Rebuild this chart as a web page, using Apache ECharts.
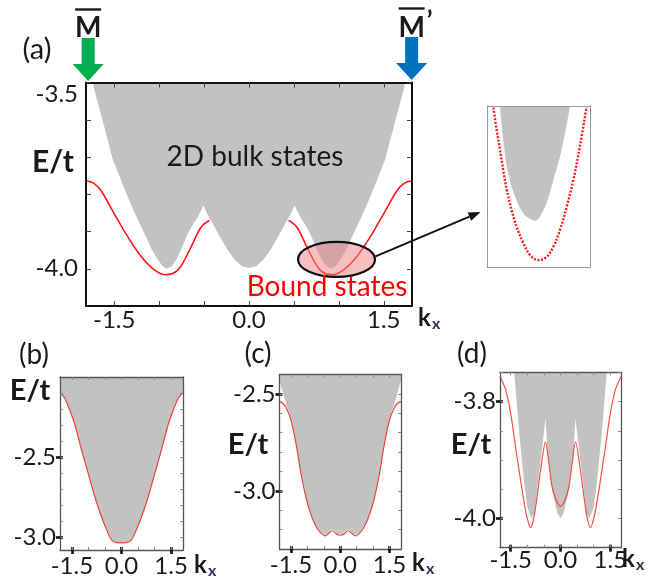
<!DOCTYPE html>
<html><head><meta charset="utf-8">
<script src="https://cdn.jsdelivr.net/npm/echarts@6/dist/echarts.min.js"></script>
<style>html,body{margin:0;padding:0;background:#fff}#c{width:653px;height:579px}</style>
</head><body><div id="c"></div>
<script>
// ---------- Panel (a) ----------
const kA_bulk = [-1.73,-1.62,-1.518,-1.42,-1.332,-1.25,-1.165,-1.09,-1.016,-0.96,-0.915,-0.86,-0.81,-0.74,-0.68,-0.62,-0.57,-0.507,-0.46,-0.40,-0.346,-0.25,-0.16,-0.08,0,0.08,0.16,0.25,0.346,0.40,0.46,0.507,0.57,0.62,0.68,0.74,0.81,0.86,0.915,0.96,1.016,1.09,1.165,1.25,1.332,1.42,1.518,1.62,1.73];
const eA_bulk = [-3.512,-3.61,-3.705,-3.765,-3.817,-3.862,-3.905,-3.945,-3.976,-3.993,-4.0,-3.993,-3.976,-3.94,-3.905,-3.88,-3.861,-3.83,-3.855,-3.88,-3.905,-3.945,-3.976,-3.993,-3.998,-3.993,-3.976,-3.945,-3.905,-3.88,-3.855,-3.83,-3.861,-3.88,-3.905,-3.94,-3.976,-3.993,-4.0,-3.993,-3.976,-3.945,-3.905,-3.862,-3.817,-3.765,-3.705,-3.61,-3.512];
const kA_boundL = [-1.814,-1.73,-1.648,-1.5,-1.35,-1.2,-1.053,-0.93,-0.79,-0.644,-0.532,-0.44];
const eA_boundL = [-3.764,-3.770,-3.79,-3.852,-3.914,-3.967,-4.003,-4.016,-4.003,-3.941,-3.888,-3.87];
const kA_boundR = [0.44,0.532,0.644,0.79,0.93,1.053,1.2,1.35,1.5,1.648,1.73,1.814];
const eA_boundR = [-3.87,-3.888,-3.941,-4.003,-4.016,-4.003,-3.967,-3.914,-3.852,-3.79,-3.770,-3.764];
const xTickLabels = [-1.5,0,1.5];
const xTicksA = [-1.5,-1.0,-0.5,0,0.5,1.0,1.5];
const yTickLabelsA = [-4.0,-3.5];
const yTicksA = [-4.0,-3.9,-3.8,-3.7,-3.6,-3.5];

// ---------- Inset ----------
const kI_bulk = [0.763,0.779,0.803,0.836,0.876,0.909,0.933,0.957,0.990,1.022,1.054,1.079,1.103];
const eI_bulk = [-3.920,-3.941,-3.962,-3.976,-3.9867,-3.990,-3.9912,-3.9888,-3.980,-3.966,-3.9515,-3.937,-3.920];
const kI_bound = [0.731,0.747,0.763,0.779,0.796,0.820,0.844,0.876,0.909,0.949,0.990,1.022,1.054,1.087,1.119,1.151,1.184];
const eI_bound = [-3.921,-3.935,-3.947,-3.960,-3.972,-3.985,-3.995,-4.005,-4.0125,-4.0157,-4.0136,-4.0074,-3.997,-3.9825,-3.966,-3.945,-3.920];

// ---------- Panel (b) ----------
const kB = [-1.86,-1.80,-1.72,-1.57,-1.41,-1.21,-1.01,-0.81,-0.61,-0.45,-0.30,-0.15,0,0.15,0.30,0.45,0.61,0.81,1.01,1.21,1.41,1.57,1.72,1.80,1.86];
const eB = [-2.10,-2.11,-2.131,-2.204,-2.298,-2.454,-2.600,-2.746,-2.871,-2.954,-3.017,-3.034,-3.035,-3.034,-3.017,-2.954,-2.871,-2.746,-2.600,-2.454,-2.298,-2.204,-2.131,-2.11,-2.10];
const yTickLabelsB = [-3.0,-2.5];
const yMinorB = [-3.0,-2.9,-2.8,-2.7,-2.6,-2.5,-2.4,-2.3,-2.2,-2.1];

// ---------- Panel (c) ----------
const kC = [-1.85,-1.75,-1.65,-1.5,-1.34,-1.19,-1.04,-0.89,-0.74,-0.59,-0.45,-0.34,-0.24,-0.12,0,0.12,0.24,0.34,0.45,0.59,0.74,0.89,1.04,1.19,1.34,1.5,1.65,1.75,1.85];
const eC_bound = [-2.54,-2.548,-2.57,-2.634,-2.763,-2.917,-3.037,-3.123,-3.183,-3.218,-3.232,-3.218,-3.206,-3.222,-3.229,-3.222,-3.206,-3.218,-3.232,-3.218,-3.183,-3.123,-3.037,-2.917,-2.763,-2.634,-2.57,-2.548,-2.54];
const eC_bulk = [-2.43,-2.49,-2.55,-2.628,-2.758,-2.912,-3.032,-3.118,-3.178,-3.213,-3.226,-3.213,-3.200,-3.216,-3.223,-3.216,-3.200,-3.213,-3.226,-3.213,-3.178,-3.118,-3.032,-2.912,-2.758,-2.628,-2.55,-2.49,-2.43];
const yTickLabelsC = [-3.0,-2.5];
const yMinorC = [-3.2,-3.1,-3.0,-2.9,-2.8,-2.7,-2.6,-2.5];

// ---------- Panel (d) ----------
const kD_bound = [-1.82,-1.65,-1.5,-1.35,-1.2,-1.05,-0.97,-0.9,-0.83,-0.75,-0.6,-0.45,-0.35,-0.25,-0.12,0,0.12,0.25,0.35,0.45,0.6,0.75,0.83,0.9,0.97,1.05,1.2,1.35,1.5,1.65,1.82];
const eD_bound = [-3.757,-3.78,-3.82,-3.878,-3.935,-3.987,-4.006,-4.016,-4.006,-3.981,-3.918,-3.869,-3.906,-3.947,-3.970,-3.979,-3.970,-3.947,-3.906,-3.869,-3.918,-3.981,-4.006,-4.016,-4.006,-3.987,-3.935,-3.878,-3.82,-3.78,-3.757];
const kD_bulk = [-1.40,-1.33,-1.25,-1.10,-1.00,-0.87,-0.78,-0.67,-0.55,-0.45,-0.40,-0.25,-0.10,0,0.10,0.25,0.40,0.45,0.55,0.67,0.78,0.87,1.00,1.10,1.25,1.33,1.40];
const eD_bulk = [-3.747,-3.791,-3.849,-3.935,-3.981,-4.0,-3.99,-3.935,-3.878,-3.829,-3.878,-3.952,-3.99,-4.0,-3.99,-3.952,-3.878,-3.829,-3.878,-3.935,-3.99,-4.0,-3.981,-3.935,-3.849,-3.791,-3.747];
const yTickLabelsD = [-4.0,-3.8];
const yMinorD = [-4.0,-3.95,-3.9,-3.85,-3.8,-3.75];

const xMinor = [-1.5,-1.0,-0.5,0,0.5,1.0,1.5];

// ---------------------------------------------------
const F = 'Lato, "Open Sans", sans-serif';
const TS = 24;
const zip = (a, b) => a.map((v, i) => [v, b[i]]);
const chart = echarts.init(document.getElementById('c'));

const gridBase = {outerBoundsMode:'none', containLabel:false, show:false};
const grids = [
  {left:86, top:82.5, width:326, height:223.5},
  {left:60, top:377, width:123, height:173},
  {left:279.5, top:374.5, width:121.5, height:174.5},
  {left:500, top:372.3, width:121, height:175.4},
  {left:487, top:106, width:103, height:161}
].map(g => Object.assign({}, gridBase, g));
const xAxes = [], yAxes = [];
function axis(list, o) {
  list.push({
    type:'value', gridIndex:o.g, min:o.min, max:o.max, position:o.pos, offset:0, z:5,
    axisLine:{show:!!o.line, onZero:false, lineStyle:{color:o.lc||'#444', width:o.lw||1.3}},
    axisTick:{show:!!o.ticks, inside:!!o.inside, length:o.tl||4, customValues:o.ticks,
      lineStyle:{color:o.tc||'#333', width:o.tw||1}},
    axisLabel:{show:!!o.labels, customValues:o.labels, margin:(o.margin==null?4:o.margin), hideOverlap:false,
      fontFamily:F, fontSize:TS, color:'#1a1a1a', formatter:o.fmt||(v=>v.toFixed(1)), rich:o.rich},
    splitLine:{show:false}, minorTick:{show:false}
  });
  return list.length - 1;
}

// Panel (a)
const xA = axis(xAxes,{g:0,min:-1.814,max:1.814,pos:'bottom',line:true,lc:'#111',lw:2,ticks:xTicksA,inside:true,tl:5,tc:'#444',labels:xTickLabels,margin:2});
axis(xAxes,{g:0,min:-1.814,max:1.814,pos:'top',line:true,lc:'#111',lw:2,ticks:xTicksA,inside:true,tl:5,tc:'#444'});
const yA = axis(yAxes,{g:0,min:-4.1,max:-3.5,pos:'left',line:true,lc:'#111',lw:2,ticks:yTicksA,inside:true,tl:5,tc:'#444',
  labels:yTickLabelsA,margin:8,
  fmt:v=>Math.abs(v+3.5)<1e-6?'{t|-3.5}':'{n|'+v.toFixed(1)+'}',
  rich:{t:{padding:[23,0,0,0],fontFamily:F,fontSize:TS,color:'#1a1a1a'},n:{fontFamily:F,fontSize:TS,color:'#1a1a1a'}}});
axis(yAxes,{g:0,min:-4.1,max:-3.5,pos:'right',line:true,lc:'#111',lw:2,ticks:yTicksA,inside:true,tl:5,tc:'#444'});

// Panels (b),(c),(d)
function smallPanel(g, xr, yr, yLab, yMin, xMargin) {
  const xi = axis(xAxes,{g,min:-xr,max:xr,pos:'bottom',line:true,lc:'#555',lw:1.3,ticks:xTickLabels,inside:false,tl:4,tw:2.6,tc:'#111',labels:xTickLabels,margin:xMargin});
  axis(xAxes,{g,min:-xr,max:xr,pos:'bottom',ticks:xTickLabels,inside:true,tl:3,tw:2.6,tc:'#111'});
  axis(xAxes,{g,min:-xr,max:xr,pos:'bottom',ticks:xMinor,inside:true,tl:3,tw:1,tc:'#888'});
  axis(xAxes,{g,min:-xr,max:xr,pos:'top',line:true,lc:'#555',lw:1.3,ticks:xMinor,inside:true,tl:3,tw:1,tc:'#888'});
  const yi = axis(yAxes,{g,min:yr[0],max:yr[1],pos:'left',line:true,lc:'#555',lw:1.3,ticks:yLab,inside:false,tl:4,tw:2.6,tc:'#111',labels:yLab,margin:4});
  axis(yAxes,{g,min:yr[0],max:yr[1],pos:'left',ticks:yLab,inside:true,tl:3,tw:2.6,tc:'#111'});
  axis(yAxes,{g,min:yr[0],max:yr[1],pos:'left',ticks:yMin,inside:true,tl:3,tw:1,tc:'#888'});
  axis(yAxes,{g,min:yr[0],max:yr[1],pos:'right',line:true,lc:'#555',lw:1.3,ticks:yMin,inside:true,tl:3,tw:1,tc:'#888'});
  return [xi, yi];
}
const [xB, yB] = smallPanel(1, 1.86, [-3.08,-2.0], yTickLabelsB, yMinorB, 4);
const [xC, yC] = smallPanel(2, 1.85, [-3.3,-2.4], yTickLabelsC, yMinorC, 4);
const [xD, yD] = smallPanel(3, 1.82, [-4.05,-3.75], yTickLabelsD, yMinorD, 1);

// Inset
const xI = axis(xAxes,{g:4,min:0.70,max:1.20,pos:'bottom',line:true,lc:'#999',lw:1});
axis(xAxes,{g:4,min:0.70,max:1.20,pos:'top',line:true,lc:'#999',lw:1});
const yI = axis(yAxes,{g:4,min:-4.02,max:-3.92,pos:'left',line:true,lc:'#999',lw:1});
axis(yAxes,{g:4,min:-4.02,max:-3.92,pos:'right',line:true,lc:'#999',lw:1});

const GRAY = '#c2c2c2';
function bulk(x, y, k, e, smooth) {
  return {type:'line', xAxisIndex:x, yAxisIndex:y, data:zip(k,e), symbol:'none', smooth:smooth||false,
    lineStyle:{width:0}, areaStyle:{color:GRAY, opacity:1, origin:'end'}, z:2, silent:true};
}
function bound(x, y, k, e, style, smooth) {
  return {type:'line', xAxisIndex:x, yAxisIndex:y, data:zip(k,e), symbol:'none', smooth:smooth,
    lineStyle:style, z:3, silent:true};
}
const series = [
  bulk(xA, yA, kA_bulk, eA_bulk),
  bound(xA, yA, kA_boundL, eA_boundL, {color:'#ff1010', width:1.5}, 0.35),
  bound(xA, yA, kA_boundR, eA_boundR, {color:'#ff1010', width:1.5}, 0.35),
  bulk(xB, yB, kB, eB, 0.3),
  bound(xB, yB, kB, eB, {color:'#e8443c', width:1.2}, 0.3),
  bulk(xC, yC, kC, eC_bulk, 0.3),
  bound(xC, yC, kC, eC_bound, {color:'#e8443c', width:1.2}, 0.3),
  bulk(xD, yD, kD_bulk, eD_bulk),
  bound(xD, yD, kD_bound, eD_bound, {color:'rgba(240,50,50,0.85)', width:1.2}, 0.3),
  bulk(xI, yI, kI_bulk, eI_bulk, 0.4),
  bound(xI, yI, kI_bound, eI_bound, {color:'#ff1a1a', width:2.4, type:[2,1.6]}, 0.4)
];

chart.setOption({animation:false, backgroundColor:'#fff', grid:grids, xAxis:xAxes, yAxis:yAxes, series});

// ---------- annotations ----------
const px = (k, e) => chart.convertToPixel({seriesIndex:0}, [k, e]);
const [gx] = px(-1.79, -3.5);
const [bx] = px(1.81, -3.5);
const topY = px(0, -3.5)[1];
function arrow(tx, ty, color) {
  return {type:'polygon', z:10, shape:{points:[[tx-6.5,ty-43],[tx+6.5,ty-43],[tx+6.5,ty-17],[tx+15.5,ty-17],[tx,ty],[tx-15.5,ty-17],[tx-6.5,ty-17]]},
    style:{fill:color}};
}
const [ecx, ecy] = px(0.974, -3.975);
const txt = (x, y, s, size, opt) => Object.assign({type:'text', x, y, z:12,
  style:Object.assign({text:s, font:(opt&&opt.weight||'normal')+' '+size+'px '+F, fill:'#1a1a1a', align:'center', verticalAlign:'middle'}, opt&&opt.style)});
const tipX = 480.5, tipY = 212;
const sx = ecx + 39, sy = ecy - 3;
const dx = tipX - sx, dy = tipY - sy, L = Math.hypot(dx, dy), ux = dx/L, uy = dy/L;
const bxh = tipX - 12*ux, byh = tipY - 12*uy;
function kx(x, y) {
  return [txt(x, y, 'k', 24, {weight:'bold', style:{align:'left'}}),
          txt(x + 14, y + 6, 'x', 16, {weight:'bold', style:{align:'left', fill:'#1f3050'}})];
}
const graphic = [
  arrow(gx, topY - 1.5, '#00b050'),
  arrow(bx, topY - 2.5, '#0070c0'),
  txt(gx, 28, 'M', 28, {weight:'bold'}),
  {type:'line', z:12, shape:{x1:gx-13, y1:9.5, x2:gx+13, y2:9.5}, style:{stroke:'#1a1a1a', lineWidth:2.4}},
  txt(bx, 28, 'M', 28, {weight:'bold'}),
  {type:'line', z:12, shape:{x1:bx-13, y1:8.5, x2:bx+13, y2:8.5}, style:{stroke:'#1a1a1a', lineWidth:2.4}},
  txt(bx+15, 22, '\u2019', 26, {weight:'bold', style:{align:'left'}}),
  {type:'ellipse', z:11, shape:{cx:ecx, cy:ecy, rx:38.5, ry:17.5}, style:{fill:'rgba(240,130,130,0.5)', stroke:'#111', lineWidth:2.2}},
  {type:'line', z:11, shape:{x1:sx, y1:sy, x2:bxh, y2:byh}, style:{stroke:'#111', lineWidth:2}},
  {type:'polygon', z:11, shape:{points:[[tipX,tipY],[bxh-4.5*uy, byh+4.5*ux],[bxh+4.5*uy, byh-4.5*ux]]}, style:{fill:'#111'}},
  txt(37, 50, '(a)', 29),
  txt(53, 162, 'E/t', 30, {weight:'bold'}),
  txt(255, 157, '2D bulk states', 28),
  txt(327, 287, 'Bound states', 28, {style:{fill:'#ff0000'}}),
  ...kx(418, 318),
  txt(34, 355, '(b)', 28),
  txt(30, 391, 'E/t', 29, {weight:'bold'}),
  ...kx(194, 565),
  txt(258, 354, '(c)', 28),
  txt(248, 445, 'E/t', 29, {weight:'bold'}),
  ...kx(412, 563),
  txt(472, 354, '(d)', 28),
  txt(471, 445, 'E/t', 29, {weight:'bold'}),
  ...kx(622, 559)
];
chart.setOption({graphic});
</script>
</body></html>
